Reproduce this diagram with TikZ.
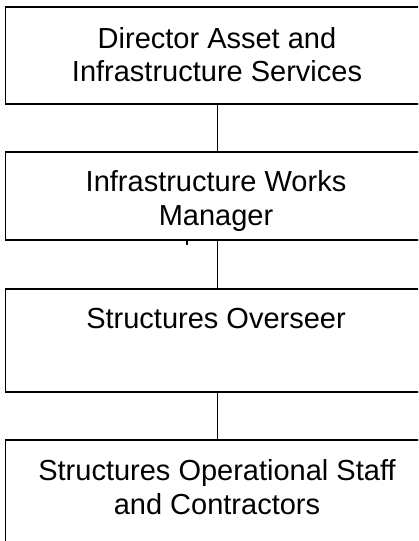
\documentclass[tikz,border=0pt]{standalone}
\usepackage{fontspec}
\setmainfont{Liberation Sans}
\usetikzlibrary{positioning}

\begin{document}
\begin{tikzpicture}
	[x=0.75pt,y=-0.75pt,line width=1.3pt,
	box/.style={rectangle,draw,minimum width=318pt,inner sep=0pt},
	txt/.style={align=center,inner sep=0pt,font=\fontsize{21.75}{25}\selectfont}]
	\useasboundingbox (0,0) rectangle (418,541);
	\clip (0,0) rectangle (418,541);
	\node[box,minimum height=72.75pt] (dir) at (217.5,55.5) {};
	\node[box,minimum height=66pt] (mgr) at (217.5,196) {};
	\node[box,minimum height=77.25pt] (ovs) at (217.5,340.5) {};
	\node[box,minimum height=90pt] (staff) at (217.5,500) {};
	\node[txt] (dirtext) at (217,54.5) {Director Asset and\\Infrastructure Services};
	\node[txt] (mgrtext) at (216,201) {Infrastructure Works\\Manager};
	\node[txt,anchor=base] (ovstext) at (216,328) {Structures Overseer};
	\node[txt] (stafftext) at (217,487) {Structures Operational Staff\\and Contractors};
	
	\foreach \from/\to in {dir/mgr, mgr/ovs, ovs/staff}
	\draw (\from.south) -- (\to.north);
	\draw[line width=0.8pt] (mgr.south -| 187,0) -- ++(0,4);
\end{tikzpicture}
\end{document}
